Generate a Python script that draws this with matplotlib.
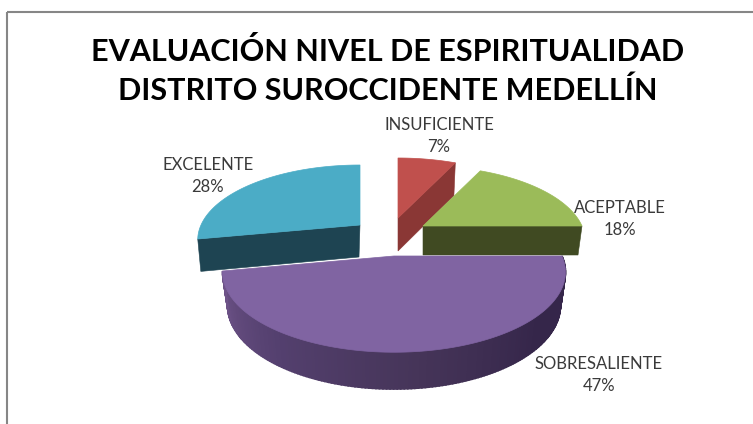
import numpy as np
import matplotlib
matplotlib.use('Agg')
import matplotlib.pyplot as plt
from matplotlib.colors import LinearSegmentedColormap
from matplotlib.patches import Polygon, Rectangle

title = 'EVALUACIÓN NIVEL DE ESPIRITUALIDAD\nDISTRITO SUROCCIDENTE MEDELLÍN'
names = ['INSUFICIENTE', 'ACEPTABLE', 'SOBRESALIENTE', 'EXCELENTE']
values = [7, 18, 47, 28]

top_colors = ['#C0504D', '#9BBB59', '#8064A2', '#4BACC6']
side_colors = ['#8A3735', '#404A22', '#4A3860', '#1E4452']

# each slice is pushed out on its own: (cx, cy, rx, ry) of top and bottom disc
top_disc = [(398, 218, 159, 72), (423, 226, 159, 72), (394, 256, 168, 77), (360, 225, 159, 72)]
bot_disc = [(398, 251, 155, 72), (423, 255, 155, 72), (394, 289, 163, 80), (359, 257, 155, 74)]
label_pos = [(439, 136), (620, 219), (599, 375), (208, 176)]

persp = 0.2


def project(disc, t):
    cx, cy, rx, ry = disc
    s = 1 / (1 + persp * np.sin(t))
    return np.column_stack([cx + rx * np.cos(t) * s, cy - ry * np.sin(t) * s])


fig = plt.figure(figsize=(7.53, 4.24), dpi=100)
ax = fig.add_axes([0, 0, 1, 1])
ax.set_xlim(0, 753)
ax.set_ylim(424, 0)
ax.axis('off')

ax.add_patch(Rectangle((7, 11.5), 800, 500, fill=False, ec='#868686', lw=1.5))

# slices go clockwise from 12 o'clock
ends = 90 - np.cumsum(values) * 3.6
starts = np.r_[90, ends[:-1]]

wall_cmap = LinearSegmentedColormap.from_list('wall', ['#6E5388', '#54406F', '#463559', '#35264A', '#35264A'])

# flat cut faces that look towards the viewer
cut_angle = [ends[0], ends[1], None, starts[3]]
for i in [0, 1, 3]:
    a = np.radians([cut_angle[i]])
    face = [top_disc[i][:2], project(top_disc[i], a)[0], project(bot_disc[i], a)[0], bot_disc[i][:2]]
    ax.add_patch(Polygon(face, fc=side_colors[i], ec=side_colors[i], lw=0.4, zorder=2))

# curved outer wall of the big slice, shaded in small steps
i = 2
angles = np.radians(np.linspace(starts[i], ends[i], 170))
rim_top = project(top_disc[i], angles)
rim_bot = project(bot_disc[i], angles)
for j in range(len(angles) - 1):
    c = wall_cmap(1 - j / (len(angles) - 2))
    quad = [rim_top[j], rim_top[j + 1], rim_bot[j + 1], rim_bot[j]]
    ax.add_patch(Polygon(quad, fc=c, ec=c, lw=1.2, zorder=3))

# top faces
for i in range(len(values)):
    angles = np.radians(np.linspace(starts[i], ends[i], 120))
    pts = np.vstack([[top_disc[i][:2]], project(top_disc[i], angles)])
    ax.add_patch(Polygon(pts, fc=top_colors[i], ec=top_colors[i], lw=0.5, zorder=4))

ax.text(388, 71, title, ha='center', va='center', family='Lato', fontweight='bold',
        fontsize=22, color='black', linespacing=1.42, zorder=6)

for name, v, (x, y) in zip(names, values, label_pos):
    ax.text(x, y, f'{name}\n{v}%', ha='center', va='center', family='Lato',
            fontsize=12, color='#3A3A3A', linespacing=1.5, zorder=6)

fig.savefig('out.png', dpi=100)
